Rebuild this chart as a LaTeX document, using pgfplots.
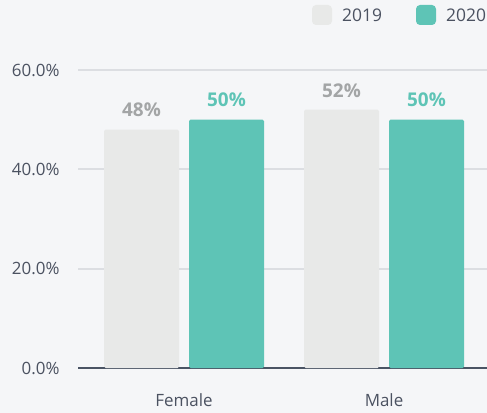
\documentclass[border=0pt]{standalone}
\usepackage{fontspec}
\setmainfont{Open Sans}
\usepackage{pgfplots}
\pgfplotsset{compat=1.18}
\definecolor{bgc}{HTML}{F5F6F8}
\definecolor{gridc}{HTML}{DCDEE2}
\definecolor{bar19}{HTML}{E8E9E8}
\definecolor{bar20}{HTML}{5EC4B6}
\definecolor{lab19}{HTML}{A3A5A6}
\definecolor{txt}{HTML}{4B5261}
\definecolor{basec}{HTML}{4A5464}
\begin{document}
\begin{tikzpicture}
  \fill[bgc] (0,0) rectangle (487bp,413bp);
  \useasboundingbox (0,0) rectangle (487bp,413bp);
  \begin{axis}[
    at={(78bp,45bp)}, anchor=south west,
    scale only axis, width=409bp, height=298bp,
    ybar=10bp, bar width=75bp,
    xmin=-0.53, xmax=1.515, ymin=0, ymax=60,
    axis x line=bottom, axis y line=left,
    x axis line style={draw=basec, line width=2bp, -},
    y axis line style={draw=none},
    major tick length=0,
    ytick={0,20,40,60},
    yticklabels={0.0\%,20.0\%,40.0\%,60.0\%},
    xtick={0,1}, xticklabels={Female,Male},
    ymajorgrids, grid style={draw=gridc, line width=2bp},
    ticklabel style={font=\fontsize{17}{20}\selectfont, text=txt},
    yticklabel style={xshift=-15bp},
    xticklabel style={yshift=-22bp},
    /pgf/number format/assume math mode=true,
    nodes near coords={\pgfmathprintnumber[fixed,precision=0,assume math mode=true]{\pgfplotspointmeta}\%},
    every node near coord/.append style={font=\fontsize{19}{22}\bfseries\selectfont, anchor=south, yshift=9bp},
    clip=false,
  ]
    \addplot[fill=bar19, draw=none, rounded corners=1.5bp,
      every node near coord/.append style={text=lab19}]
      coordinates {(0,48) (1,52)};
    \addplot[fill=bar20, draw=none, rounded corners=1.5bp,
      every node near coord/.append style={text=bar20}]
      coordinates {(0,50) (1,50)};
  \end{axis}
  % legend
  \fill[bar19, rounded corners=4bp] (312bp,388bp) rectangle (332bp,408bp);
  \node[anchor=west, inner sep=0, text=txt, font=\fontsize{17.5}{20}\selectfont] at (342bp,398bp) {2019};
  \fill[bar20, rounded corners=4bp] (416bp,388bp) rectangle (436bp,408bp);
  \node[anchor=west, inner sep=0, text=txt, font=\fontsize{17.5}{20}\selectfont] at (446bp,398bp) {2020};
\end{tikzpicture}
\end{document}
